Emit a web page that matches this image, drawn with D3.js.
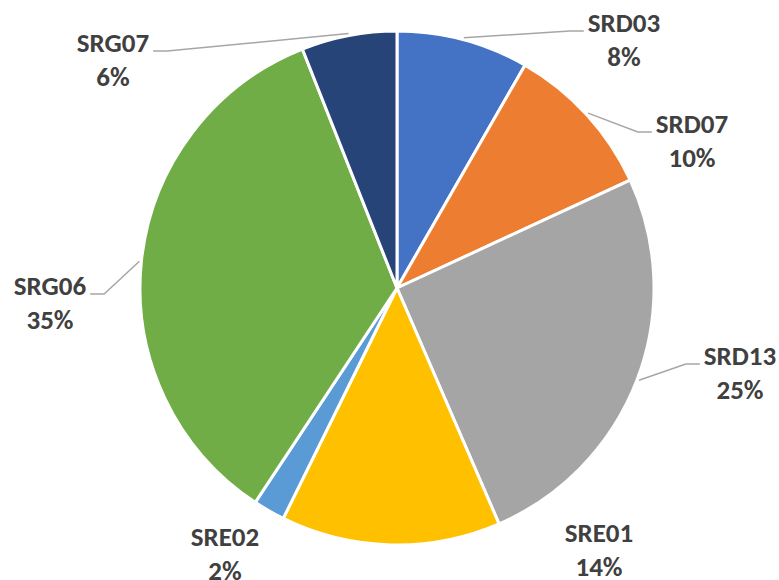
<!DOCTYPE html>
<html>
<head>
<meta charset="utf-8">
<script src="https://cdn.jsdelivr.net/npm/d3@7/dist/d3.min.js"></script>
<style>
  body { margin: 0; background: #fff; }
  .lbl { font-family: Calibri, Carlito, Lato, sans-serif; font-weight: bold; font-size: 27px; fill: #404040; }
</style>
</head>
<body>
<script>
// slices, clockwise from 12 o'clock
var names  = ['SRD03', 'SRD07', 'SRD13', 'SRE01', 'SRE02', 'SRG06', 'SRG07'];
var values = [8.3, 9.8, 25.4, 13.8, 2.0, 34.7, 6.0];
var colors = ['#4472C4', '#ED7D31', '#A5A5A5', '#FFC000', '#5B9BD5', '#70AD47', '#264478'];

// where each label sits (center x, baseline of first line) and whether it gets a leader line
var labelPos = {
  SRD03: {x: 624, y: 32,  leader: true},
  SRD07: {x: 692, y: 133, leader: true},
  SRD13: {x: 740, y: 365, leader: true},
  SRE01: {x: 599, y: 542, leader: false},
  SRE02: {x: 225, y: 546, leader: false},
  SRG06: {x: 50,  y: 295, leader: true},
  SRG07: {x: 113, y: 52,  leader: true}
};

var width = 779, height = 580,
    cx = 397, cy = 288, radius = 257;

var svg = d3.select("body").append("svg")
    .attr("width", width)
    .attr("height", height);

var g = svg.append("g")
    .attr("transform", "translate(" + cx + "," + cy + ")");

var data = names.map(function(n, i) { return {name: n, value: values[i], color: colors[i]}; });
var total = d3.sum(values);

var pie = d3.pie()
    .sort(null)
    .value(function(d) { return d.value; });

var arc = d3.arc()
    .innerRadius(0)
    .outerRadius(radius);

var arcs = pie(data);

g.selectAll("path.slice")
    .data(arcs)
  .enter().append("path")
    .attr("class", "slice")
    .attr("d", arc)
    .attr("fill", function(d) { return d.data.color; })
    .attr("stroke", "#fff")
    .attr("stroke-width", 3);

// labels
var labels = svg.selectAll("g.label")
    .data(arcs)
  .enter().append("g")
    .attr("class", "label");

labels.each(function(d) {
  var p = labelPos[d.data.name];
  var sel = d3.select(this);
  var t1 = sel.append("text")
      .attr("class", "lbl")
      .attr("x", p.x)
      .attr("y", p.y)
      .attr("text-anchor", "middle")
      .text(d.data.name);
  sel.append("text")
      .attr("class", "lbl")
      .attr("x", p.x)
      .attr("y", p.y + 34)
      .attr("text-anchor", "middle")
      .text(Math.round(d.data.value / total * 100) + "%");

  if (!p.leader) return;
  var w = t1.node().getComputedTextLength();
  var mid = (d.startAngle + d.endAngle) / 2;
  var sx = cx + (radius + 2) * Math.sin(mid),
      sy = cy - (radius + 2) * Math.cos(mid);
  var right = sx > cx;
  var ex = right ? p.x - w / 2 - 4 : p.x + w / 2 + 4;
  var kx = right ? ex - 14 : ex + 14;
  var ly = p.y - 1;
  sel.insert("polyline", "text")
      .attr("points", [[sx, sy], [kx, ly], [ex, ly]].map(function(q) { return q.join(","); }).join(" "))
      .attr("fill", "none")
      .attr("stroke", "#A6A6A6")
      .attr("stroke-width", 1.5);
});
</script>
</body>
</html>
